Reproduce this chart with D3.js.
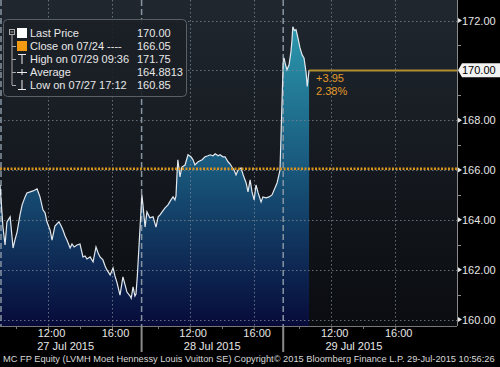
<!DOCTYPE html>
<html><head><meta charset="utf-8">
<script src="https://cdn.jsdelivr.net/npm/d3@7"></script>
<style>html,body{margin:0;padding:0;background:#000;}svg{display:block;font-family:"Liberation Sans",Arial,sans-serif;}</style>
</head><body>
<svg id="c" width="500" height="367"></svg>
<script>
// ---------- data ----------
const dayLabels = ["27 Jul 2015", "28 Jul 2015", "29 Jul 2015"];
const day1Times = ["09:00","09:04","09:11","09:19","09:26","09:38","09:49","09:56","10:04","10:15","10:23","10:34","10:41","10:53","11:04","11:11","11:19","11:30","11:41","11:49","11:56","12:08","12:15","12:26","12:41","12:49","12:56","13:04","13:11","13:23","13:30","13:38","13:49","14:00","14:11","14:19","14:26","14:38","14:49","15:00","15:08","15:15","15:26","15:34","15:41","15:53","16:04","16:11","16:19","16:30","16:41","16:49","16:56","17:08","17:12","17:19","17:26","17:30","17:35"];
const day1Prices = [165.40,164.80,163.71,162.99,163.92,164.12,162.87,163.19,163.51,164.20,164.60,164.92,165.08,165.12,165.16,165.20,165.24,164.92,164.40,164.28,163.92,163.59,163.19,163.75,163.92,163.76,163.59,163.35,163.19,162.87,163.03,162.91,162.99,163.03,162.51,162.55,162.43,162.51,162.31,162.91,162.67,162.51,162.39,162.15,161.99,161.79,162.07,161.75,161.47,160.98,161.71,161.39,161.10,160.94,160.85,161.31,160.94,161.02,161.75];
const day2Times = ["09:01","09:05","09:13","09:20","09:31","09:43","09:54","10:02","10:09","10:17","10:28","10:39","10:50","10:58","11:05","11:09","11:13","11:16","11:24","11:31","11:43","11:54","12:05","12:13","12:20","12:32","12:47","12:58","13:09","13:17","13:28","13:36","13:47","13:54","14:05","14:13","14:24","14:32","14:39","14:47","14:54","15:02","15:13","15:21","15:32","15:39","15:47","15:54","16:02","16:09","16:17","16:28","16:35","16:47","16:58","17:09","17:20","17:28","17:35","17:39"];
const day2Prices = [165.00,164.60,163.71,164.32,164.08,164.12,163.71,164.12,164.20,164.32,164.48,164.60,164.80,164.92,164.80,164.96,165.88,166.41,165.72,166.12,166.20,166.61,166.53,166.41,166.20,166.33,166.41,166.53,166.57,166.61,166.57,166.65,166.57,166.61,166.53,166.53,166.33,166.24,166.12,166.00,165.80,166.00,166.08,165.80,165.48,165.12,165.60,165.12,164.80,165.40,165.08,164.72,164.92,164.88,164.92,165.00,165.28,165.48,165.80,166.00];
const day3Times = ["09:00","09:03","09:07","09:14","09:22","09:29","09:33","09:36","09:42","09:48","09:55","10:03","10:11","10:18","10:26","10:30","10:37"];
const day3Prices = [170.34,170.50,170.30,170.02,170.22,170.74,171.22,171.75,171.60,171.63,171.31,170.90,170.62,170.50,169.90,169.35,170.00];
const yTicks = [160, 162, 164, 166, 168, 170, 172];
const yMinorTicks = [161, 163, 165, 167, 169, 171];
const hourTicks = ["12:00", "16:00"];
const hourMinorTicks = ["10:00", "14:00"];
const legendLabels = ["Last Price", "Close on 07/24 ----", "High on 07/29 09:36", "Average", "Low on 07/27 17:12"];
const legendValues = ["170.00", "166.05", "171.75", "164.8813", "160.85"];
const lastPrice = 170.00, prevClose = 166.05;
const changeLabels = ["+3.95", "2.38%"];
const footer = "MC FP Equity (LVMH Moet Hennessy Louis Vuitton SE) Copyright\u00A9 2015 Bloomberg Finance L.P.  29-Jul-2015 10:56:26";

// ---------- helpers ----------
const SESSION = 8.85; // hours of chart width per day
function sessionHour(dayIdx, t) {
  const [h, m] = t.split(":").map(Number);
  return dayIdx * SESSION + (h + m / 60 - 9);
}
const series = [];
[[day1Times, day1Prices], [day2Times, day2Prices], [day3Times, day3Prices]].forEach(([ts, ps], d) => {
  ts.forEach((t, i) => series.push({ x: sessionHour(d, t), v: ps[i] }));
});

const W = 500, H = 367, PW = 457, PB = 326;
const svg = d3.select("#c");
const x = d3.scaleLinear().domain([0, PW / 16]).range([0, PW]);
const y = d3.scaleLinear().domain([160, 172]).range([319.5, 20.5]);

const defs = svg.append("defs");
const bg = defs.append("linearGradient").attr("id", "bg").attr("x1", 0).attr("x2", 0).attr("y1", 0).attr("y2", PB).attr("gradientUnits", "userSpaceOnUse");
bg.append("stop").attr("offset", 0).attr("stop-color", "#20272f");
bg.append("stop").attr("offset", 1).attr("stop-color", "#0a0c10");
const fg = defs.append("linearGradient").attr("id", "fg").attr("x1", 0).attr("x2", 0).attr("y1", 20).attr("y2", PB).attr("gradientUnits", "userSpaceOnUse");
fg.append("stop").attr("offset", 0).attr("stop-color", "#2c9bb0");
fg.append("stop").attr("offset", 0.5).attr("stop-color", "#18557a");
fg.append("stop").attr("offset", 1).attr("stop-color", "#070b3a");
defs.append("clipPath").attr("id", "plotclip").append("rect").attr("x", 0).attr("y", 0).attr("width", PW).attr("height", PB);

svg.append("rect").attr("width", W).attr("height", H).attr("fill", "#000");
svg.append("rect").attr("x", 0).attr("y", 0).attr("width", PW).attr("height", PB).attr("fill", "url(#bg)");

const plot = svg.append("g").attr("clip-path", "url(#plotclip)");

// area + line
plot.append("path").datum(series)
  .attr("d", d3.area().x(d => x(d.x)).y0(PB).y1(d => y(d.v)))
  .attr("fill", "url(#fg)");

// grid horizontal
plot.selectAll(".hg").data(yTicks).join("line")
  .attr("x1", 0).attr("x2", PW).attr("y1", d => Math.round(y(d)) + 0.5).attr("y2", d => Math.round(y(d)) + 0.5)
  .attr("stroke", "#7a8590").attr("stroke-width", 1).attr("stroke-dasharray", "1.5,2.5").attr("opacity", 0.8);
// grid vertical
const vg = [];
for (let d = 0; d < 3; d++) hourTicks.forEach(t => vg.push(sessionHour(d, t)));
plot.selectAll(".vg").data(vg).join("line")
  .attr("x1", d => Math.round(x(d)) + 0.5).attr("x2", d => Math.round(x(d)) + 0.5).attr("y1", 0).attr("y2", PB)
  .attr("stroke", "#7a8590").attr("stroke-width", 1).attr("stroke-dasharray", "1.5,2.5").attr("opacity", 0.8);
const dayStarts = [0, 1, 2].map(d => sessionHour(d, "09:00"));
plot.selectAll(".dg").data(dayStarts).join("line")
  .attr("x1", d => Math.max(1, x(d))).attr("x2", d => Math.max(1, x(d))).attr("y1", 0).attr("y2", PB)
  .attr("stroke", "#8795a2").attr("stroke-width", 1.5).attr("stroke-dasharray", "6,3");

plot.append("path").datum(series)
  .attr("d", d3.line().x(d => x(d.x)).y(d => y(d.v)))
  .attr("fill", "none").attr("stroke", "#e2e8ee").attr("stroke-width", 1.2);

// previous close dotted line
plot.append("line").attr("x1", 0).attr("x2", PW).attr("y1", y(prevClose)).attr("y2", y(prevClose))
  .attr("stroke", "#d8941c").attr("stroke-width", 2.5).attr("stroke-dasharray", "2,1.5");

// last price line
const lastX = x(series[series.length - 1].x);
plot.append("line").attr("x1", lastX).attr("x2", PW).attr("y1", Math.round(y(lastPrice)) + 0.5).attr("y2", Math.round(y(lastPrice)) + 0.5)
  .attr("stroke", "#b08f32").attr("stroke-width", 2);
plot.selectAll(".chg").data(changeLabels).join("text")
  .attr("x", lastX + 7).attr("y", (d, i) => y(lastPrice) + 12 + i * 13)
  .attr("fill", "#e39a2a").attr("font-size", 11).text(d => d);

// right axis
const ax = svg.append("g").attr("transform", `translate(${PW},0)`);
ax.append("line").attr("x1", 0.5).attr("x2", 0.5).attr("y1", 0).attr("y2", PB).attr("stroke", "#8a8a8a");
ax.append("path").attr("d", `M1,${y(lastPrice)}L5,${y(lastPrice) - 7}L43,${y(lastPrice) - 7}L43,${y(lastPrice) + 7}L5,${y(lastPrice) + 7}Z`)
  .attr("fill", "#f2f2f2");
ax.call(g => {
  const a = d3.axisRight(y).tickValues(yTicks).tickSize(0).tickPadding(5).tickFormat(d3.format(".2f"));
  const gg = g.append("g").call(a);
  gg.select(".domain").remove();
  gg.selectAll("text").attr("fill", d => d === lastPrice ? "#000" : "#e6e6e6").attr("font-size", 11).attr("font-family", "Liberation Sans, Arial");
});
ax.selectAll(".tri").data(yTicks.filter(d => d !== lastPrice)).join("path")
  .attr("d", d => `M1,${y(d) - 2.5}L5,${y(d)}L1,${y(d) + 2.5}Z`).attr("fill", "#e6e6e6");
ax.selectAll(".mt").data(yMinorTicks).join("line")
  .attr("x1", 1).attr("x2", 4).attr("y1", d => Math.round(y(d)) + 0.5).attr("y2", d => Math.round(y(d)) + 0.5).attr("stroke", "#8a8a8a");

// bottom axis
const bx = svg.append("g").attr("transform", `translate(0,${PB})`);
bx.append("line").attr("x1", 0).attr("x2", PW).attr("y1", 0.5).attr("y2", 0.5).attr("stroke", "#777");
const tickPos = [], minorPos = [];
for (let d = 0; d < 3; d++) { hourTicks.forEach(t => tickPos.push({ v: sessionHour(d, t), t })); hourMinorTicks.forEach(t => minorPos.push(sessionHour(d, t))); }
const xa = d3.axisBottom(x).tickValues(tickPos.map(d => d.v)).tickSize(4).tickPadding(0)
  .tickFormat((d, i) => tickPos[i].t);
const xg = bx.append("g").call(xa);
xg.select(".domain").remove();
xg.selectAll("line").attr("stroke", "#777");
xg.selectAll("text").attr("fill", "#e6e6e6").attr("font-size", 11).attr("dx", 3).attr("y", 11).attr("dy", 0).attr("font-family", "Liberation Sans, Arial");
bx.selectAll(".mn").data(minorPos).join("line")
  .attr("x1", d => Math.round(x(d)) + 0.5).attr("x2", d => Math.round(x(d)) + 0.5).attr("y1", 0).attr("y2", 3).attr("stroke", "#777");
bx.selectAll(".ds").data(dayStarts.slice(1)).join("line")
  .attr("x1", d => x(d)).attr("x2", d => x(d)).attr("y1", 0).attr("y2", 26).attr("stroke", "#8a8a8a").attr("stroke-width", 2);
bx.selectAll(".dl").data(dayLabels).join("text")
  .attr("x", (d, i) => x(sessionHour(i, "13:25")) - (i === 0 ? 5 : 0)).attr("y", 24).attr("text-anchor", "middle")
  .attr("fill", "#e6e6e6").attr("font-size", 11).text(d => d);

const ft = svg.append("text").attr("x", 3).attr("y", 362).attr("fill", "#d8d8d8").attr("font-size", 9.5).text(footer);
const natural = ft.node().getComputedTextLength();
if (natural > 492) ft.attr("font-size", 9.5 * 492 / natural);

// legend
const lg = svg.append("g");
lg.append("rect").attr("x", 3.5).attr("y", 19.5).attr("width", 183).attr("height", 77).attr("rx", 4)
  .attr("fill", "#1a1f26").attr("fill-opacity", 0.92).attr("stroke", "#5a5f66");
const rowY = i => 33 + i * 13;
lg.append("rect").attr("x", 9.5).attr("y", 29.5).attr("width", 5).attr("height", 5).attr("fill", "none").attr("stroke", "#aaa");
lg.append("line").attr("x1", 10.5).attr("x2", 13.5).attr("y1", 32).attr("y2", 32).attr("stroke", "#aaa");
lg.append("line").attr("x1", 12).attr("x2", 12).attr("y1", 35).attr("y2", rowY(4)).attr("stroke", "#aaa");
lg.selectAll(".br").data([1, 2, 3, 4]).join("line")
  .attr("x1", 12).attr("x2", 16).attr("y1", d => rowY(d) + 0.5).attr("y2", d => rowY(d) + 0.5).attr("stroke", "#aaa");
lg.append("rect").attr("x", 17).attr("y", rowY(0) - 5).attr("width", 10).attr("height", 10).attr("fill", "#fff");
lg.append("rect").attr("x", 17).attr("y", rowY(1) - 5).attr("width", 10).attr("height", 10).attr("fill", "#f29a12");
lg.append("path").attr("d", `M18,${rowY(2) - 4.5}H26M22,${rowY(2) - 4.5}V${rowY(2) + 5}`).attr("stroke", "#eee").attr("fill", "none");
lg.append("path").attr("d", `M17,${rowY(3) + 0.5}H27M22,${rowY(3) - 3}V${rowY(3) + 3}`).attr("stroke", "#eee").attr("fill", "none");
lg.append("path").attr("d", `M22,${rowY(4) - 5}V${rowY(4) + 4.5}M18,${rowY(4) + 4.5}H26`).attr("stroke", "#eee").attr("fill", "none");
lg.selectAll(".ll").data(legendLabels).join("text")
  .attr("x", 30).attr("y", (d, i) => rowY(i) + 4).attr("fill", "#e8e8e8").attr("font-size", 11).text(d => d);
lg.selectAll(".lv").data(legendValues).join("text")
  .attr("x", 137).attr("y", (d, i) => rowY(i) + 4).attr("fill", "#e8e8e8").attr("font-size", 11).text(d => d);
</script>
</body></html>
